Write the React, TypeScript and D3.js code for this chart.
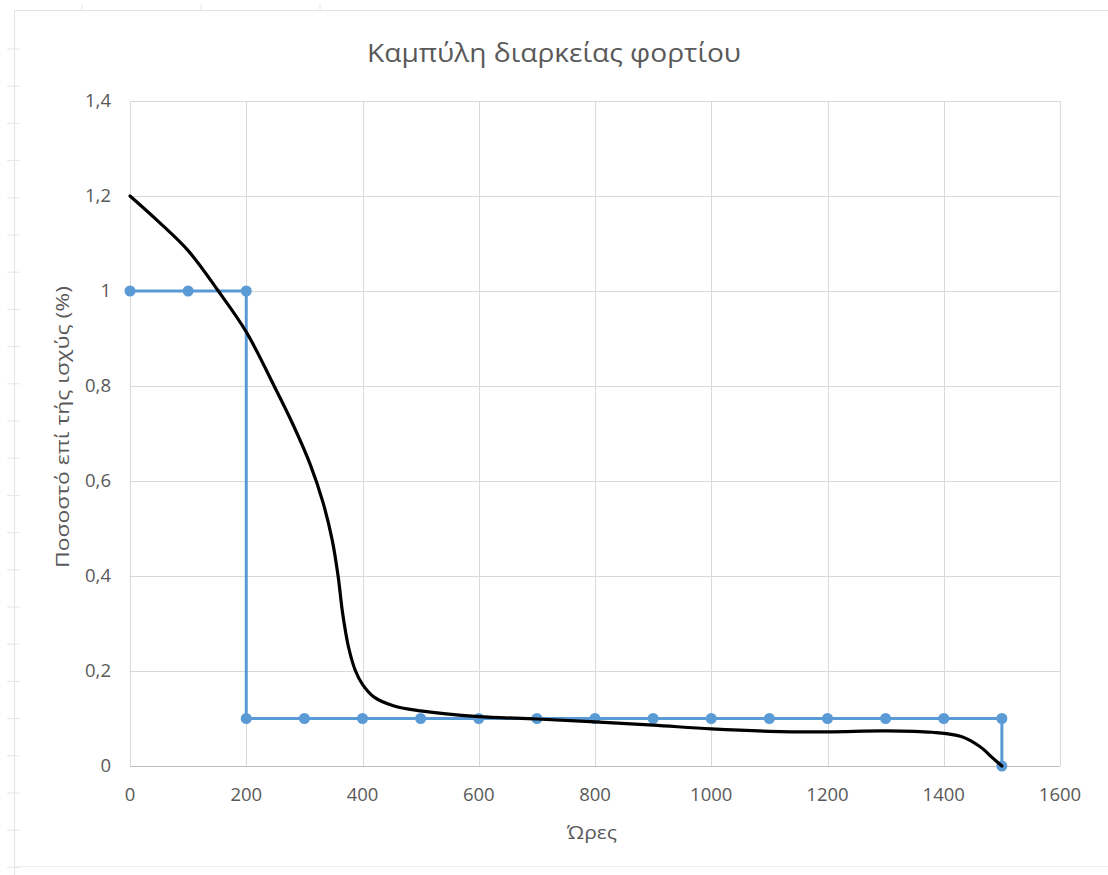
import React from "react";
import * as d3 from "d3";

const TITLE = "Καμπύλη διαρκείας φορτίου";
const X_TITLE = "Ώρες";
const Y_TITLE = "Ποσοστό επί τής ισχύς (%)";

const xTicks = [0, 200, 400, 600, 800, 1000, 1200, 1400, 1600];
const yTicks = [0, 0.2, 0.4, 0.6, 0.8, 1, 1.2, 1.4];

// Blue step series (hours, value)
const stepHours = [0, 100, 200, 200, 300, 400, 500, 600, 700, 800, 900, 1000, 1100, 1200, 1300, 1400, 1500, 1500];
const stepValues = [1, 1, 1, 0.1, 0.1, 0.1, 0.1, 0.1, 0.1, 0.1, 0.1, 0.1, 0.1, 0.1, 0.1, 0.1, 0.1, 0];

// Black smooth load-duration curve
const curveHours = [0, 50, 100, 152, 200, 248, 280, 310, 332, 348, 358, 366, 376, 388, 400, 420, 453, 500, 600, 700, 800, 900, 1000, 1100, 1200, 1300, 1380, 1430, 1462, 1485, 1500];
const curveValues = [1.2, 1.145, 1.085, 1.0, 0.914, 0.8, 0.72, 0.635, 0.555, 0.475, 0.4, 0.32, 0.25, 0.2, 0.172, 0.145, 0.127, 0.116, 0.104, 0.099, 0.093, 0.086, 0.078, 0.073, 0.072, 0.074, 0.071, 0.062, 0.041, 0.016, 0];

const W = 1108;
const H = 875;
const left = 130, right = 1060, top = 101, bottom = 766;
const FONT = "'Open Sans', 'Noto Sans', sans-serif";
const TEXT = "#595959";
const GRID = "#d9d9d9";
const BLUE = "#5B9BD5";

export default function App() {
  const x = d3.scaleLinear().domain([0, 1600]).range([left, right]);
  const y = d3.scaleLinear().domain([0, 1.4]).range([bottom, top]);
  const fmt = (v: number) => (Math.round(v * 10) / 10).toString().replace(".", ",");

  const stepPts = stepHours.map((h, i) => [h, stepValues[i]] as [number, number]);
  const curvePts = curveHours.map((h, i) => [h, curveValues[i]] as [number, number]);
  const stepLine = d3.line<[number, number]>().x((d) => x(d[0])).y((d) => y(d[1]));
  const smoothLine = d3
    .line<[number, number]>()
    .x((d) => x(d[0]))
    .y((d) => y(d[1]))
    .curve(d3.curveCatmullRom.alpha(0.5));

  const leftMarks = d3.range(49, 875, 37.2);
  const topMarks = [82, 201, 320];

  return (
    <svg
      width={W}
      height={H}
      style={{ position: "absolute", left: 0, top: 0, background: "#fff" }}
      fontFamily={FONT}
    >
      <rect x={0} y={0} width={W} height={H} fill="#fff" />
      {/* sheet frame remnants */}
      <line x1={14} x2={W} y1={10.5} y2={10.5} stroke="#e3e3e3" />
      <line x1={14.5} x2={14.5} y1={10} y2={H} stroke="#e3e3e3" />
      {leftMarks.map((m, i) => (
        <line key={"lm" + i} x1={7} x2={20} y1={m} y2={m} stroke="#e6e6e6" />
      ))}
      {topMarks.map((m, i) => (
        <line key={"tm" + i} x1={m} x2={m} y1={4} y2={11} stroke="#e6e6e6" />
      ))}
      <line x1={14} x2={W} y1={866.5} y2={866.5} stroke="#f0f0f0" />

      {/* gridlines */}
      {yTicks.map((t) => (
        <line key={"gy" + t} x1={left} x2={right} y1={Math.round(y(t)) + 0.5} y2={Math.round(y(t)) + 0.5} stroke={t === 0 ? "#bfbfbf" : GRID} />
      ))}
      {xTicks.map((t) => (
        <line key={"gx" + t} x1={Math.round(x(t)) + 0.5} x2={Math.round(x(t)) + 0.5} y1={top} y2={bottom} stroke={GRID} />
      ))}

      {/* tick labels */}
      {yTicks.map((t) => (
        <text key={"ty" + t} x={111} y={y(t)} dy="0.35em" textAnchor="end" fontSize={18.5} fill={TEXT}>
          {fmt(t)}
        </text>
      ))}
      {xTicks.map((t) => (
        <text key={"tx" + t} x={x(t)} y={801} textAnchor="middle" fontSize={18.5} fill={TEXT}>
          {t}
        </text>
      ))}

      {/* axis titles */}
      <text x={592} y={839} textAnchor="middle" fontSize={19} fill={TEXT} textLength={50} lengthAdjust="spacingAndGlyphs">
        {X_TITLE}
      </text>
      <text
        transform={`translate(69, 427) rotate(-90)`}
        textAnchor="middle"
        fontSize={18.5}
        fill={TEXT}
        textLength={282}
        lengthAdjust="spacingAndGlyphs"
      >
        {Y_TITLE}
      </text>

      {/* title */}
      <text x={554} y={62} textAnchor="middle" fontSize={26} fill={TEXT} textLength={374} lengthAdjust="spacingAndGlyphs">
        {TITLE}
      </text>

      {/* blue series */}
      <path d={stepLine(stepPts) || ""} fill="none" stroke={BLUE} strokeWidth={3} strokeLinejoin="round" />
      {stepPts.map((p, i) => (
        <circle key={"m" + i} cx={x(p[0])} cy={y(p[1])} r={5.5} fill={BLUE} />
      ))}

      {/* black curve */}
      <path d={smoothLine(curvePts) || ""} fill="none" stroke="#000" strokeWidth={3.2} strokeLinejoin="round" strokeLinecap="round" />
    </svg>
  );
}
